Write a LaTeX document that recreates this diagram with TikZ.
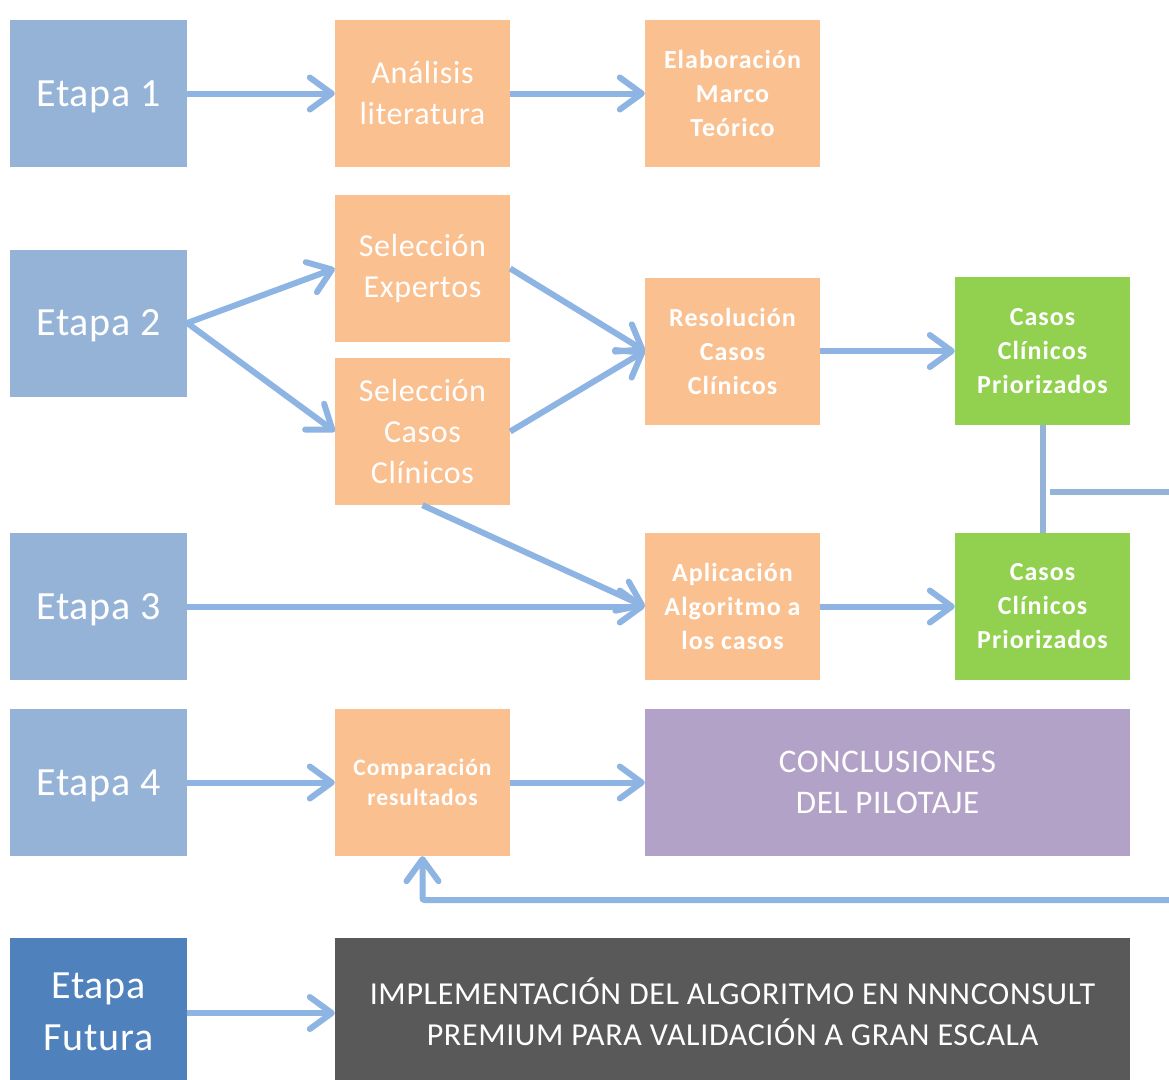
\documentclass[tikz,border=0pt]{standalone}
\usepackage{fontspec}
\setmainfont{Carlito}[LetterSpace=2, BoldFeatures={LetterSpace=4}]
\usetikzlibrary{arrows.meta}

\definecolor{azuletapa}{HTML}{95B3D7}
\definecolor{azulfutura}{HTML}{4F81BD}
\definecolor{naranja}{HTML}{FAC090}
\definecolor{verde}{HTML}{92D050}
\definecolor{lila}{HTML}{B2A2C7}
\definecolor{gris}{HTML}{595959}
\definecolor{flechaazul}{HTML}{8DB4E2}

\begin{document}
\begin{tikzpicture}[x=1pt, y=-1pt,
    >={Straight Barb[length=22pt, width=32pt, round]},
    etapa/.style={fill=azuletapa, text=white, inner sep=0pt,
      minimum width=177pt, minimum height=147pt, align=center,
      text depth=0pt, font=\fontsize{40}{52}\selectfont},
    paso/.style={fill=naranja, text=white, inner sep=0pt,
      minimum width=175pt, minimum height=147pt, align=center,
      font=\fontsize{32}{41}\selectfont},
    pasochico/.style={paso, font=\bfseries\fontsize{26}{34}\selectfont},
    flecha/.style={->, line width=6pt, flechaazul},
    linea/.style={line width=6pt, azuletapa}]
    \useasboundingbox[fill=white] (0,0) rectangle (1169,1079);

    % Etapas
    \node[etapa] (e1) at (98.5,93.5) {Etapa 1};
    \node[etapa] (e2) at (98.5,323) {Etapa 2};
    \node[etapa] (e3) at (98.5,606.5) {Etapa 3};
    \node[etapa] (e4) at (98.5,782.5) {Etapa 4};
    \node[etapa, fill=azulfutura] (ef) at (98.5,1011.5) {Etapa\\Futura};

    % Etapa 1
    \node[paso] (ana) at (422.5,93.5) {Análisis\\literatura};
    \node[pasochico] (ela) at (732.5,93.5) {Elaboración\\Marco\\Teórico};

    % Etapa 2
    \node[paso] (selexp) at (422.5,268.5) {Selección\\Expertos};
    \node[paso] (selcas) at (422.5,431.5) {Selección\\Casos\\Clínicos};
    \node[pasochico] (res) at (732.5,351) {Resolución\\Casos\\Clínicos};
    \node[pasochico, fill=verde, minimum height=148pt] (prio1) at (1042.5,351) {Casos\\Clínicos\\Priorizados};

    % Etapa 3
    \node[pasochico] (apl) at (732.5,606.5) {Aplicación\\Algoritmo a\\los casos};
    \node[pasochico, fill=verde] (prio2) at (1042.5,606.5) {Casos\\Clínicos\\Priorizados};

    % Etapa 4
    \node[pasochico, font=\bfseries\fontsize{23.5}{30}\selectfont] (comp) at (422.5,782.5) {Comparación\\resultados};
    \node[paso, fill=lila, minimum width=485pt, font=\fontsize{33}{41}\selectfont] (concl) at (887.5,782.5) {CONCLUSIONES\\DEL PILOTAJE};

    % Etapa futura
    \node[paso, fill=gris, minimum width=795pt] (impl) at (732.5,1011.5)
      {IMPLEMENTACIÓN DEL ALGORITMO EN NNNCONSULT\\PREMIUM PARA VALIDACIÓN A GRAN ESCALA};

    % Flechas
    \draw[flecha] (e1) -- (ana);
    \draw[flecha] (ana) -- (ela);
    \draw[flecha] (e2.east) -- (selexp.west);
    \draw[flecha] (e2.east) -- (selcas.west);
    \draw[flecha] (selexp.east) -- (res.west);
    \draw[flecha] (selcas.east) -- (res.west);
    \draw[flecha] (res) -- (prio1);
    \draw[flecha] (selcas.south) -- (apl.west);
    \draw[flecha] (e3) -- (apl);
    \draw[flecha] (apl) -- (prio2);
    \draw[flecha] (e4) -- (comp);
    \draw[flecha] (comp) -- (concl);
    \draw[flecha] (ef.east |- 0,1013) -- (impl.west |- 0,1013);

    % Union de los casos priorizados y vuelta a la comparacion
    \coordinate (salida) at (1169,492);
    \coordinate (vuelta) at (1169,900);
    \draw[linea] (prio1) -- (prio2);
    \draw[linea] (prio1.south |- salida) ++(7,0) -- (salida);
    \draw[flecha, rounded corners=2pt] (vuelta) -| (comp.south);
\end{tikzpicture}
\end{document}
